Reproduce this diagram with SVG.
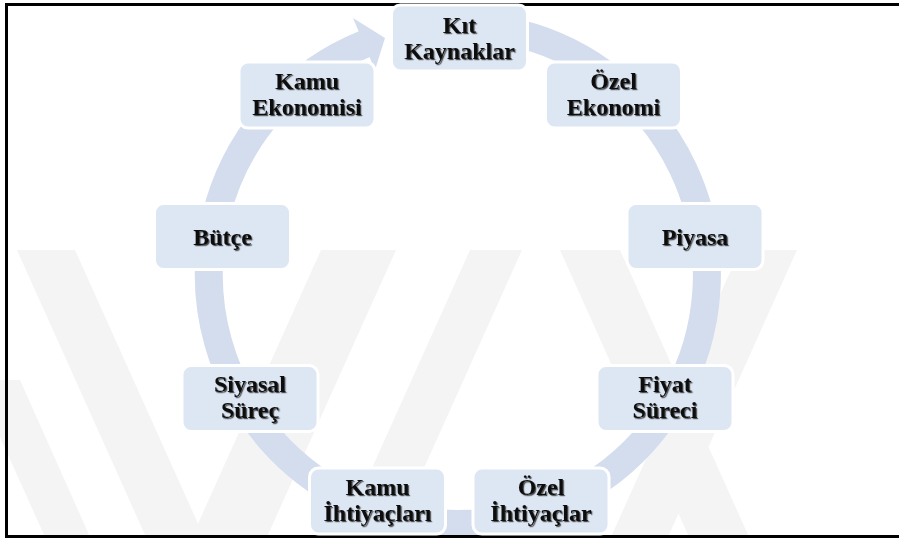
<svg xmlns="http://www.w3.org/2000/svg" width="899" height="540" viewBox="0 0 899 540">
<defs>
<filter id="sh" x="-10%" y="-10%" width="130%" height="130%">
<feDropShadow dx="1.2" dy="1.2" stdDeviation="0.7" flood-color="#333" flood-opacity="0.85"/>
</filter>
</defs>
<style>
.box{fill:#dde7f4;stroke:#ffffff;stroke-width:3}
.t{font-family:"Liberation Serif","Times New Roman",serif;font-weight:bold;font-size:24px;fill:#111;text-anchor:middle;filter:url(#sh)}
.wm{fill:#f4f4f4}
.ring{fill:none;stroke:#d3ddee;stroke-width:28}
</style>
<rect width="899" height="540" fill="#fff"/>
<g id="watermark">
<polygon class="wm" points="17,250 75,250 204,537 146,537"/>
<polygon class="wm" points="321,250 396,250 267,537 192,537"/>
<polygon class="wm" points="470,250 522,250 393,537 341,537"/>
<polygon class="wm" points="740,250 797,250 668,537 611,537"/>
<polygon class="wm" points="560,250 620,250 749,537 689,537"/>
<polygon class="wm" points="0,380 20,380 90,537 45,537 0,437"/>
</g>
<g id="connectors">
<path class="ring" d="M501.2,29.8 A249,249 0 1 1 364.7,44.1"/>
<polygon fill="#d3ddee" points="353,18 385,38 375,70"/>
</g>
<g id="border" fill="none" stroke="#000">
<line x1="5" y1="4.5" x2="899" y2="4.5" stroke-width="3"/>
<line x1="6.5" y1="3" x2="6.5" y2="538" stroke-width="3"/>
<line x1="5" y1="536.5" x2="899" y2="536.5" stroke-width="3"/>
</g>
<g id="n1"><rect class="box" x="391.5" y="5" width="136" height="66" rx="9"/><text class="t" x="459.5" y="33">Kıt</text><text class="t" x="459.5" y="59">Kaynaklar</text></g>
<g id="n2"><rect class="box" x="545.5" y="62" width="136" height="66" rx="9"/><text class="t" x="613.5" y="89">Özel</text><text class="t" x="613.5" y="115">Ekonomi</text></g>
<g id="n3"><rect class="box" x="627" y="203.5" width="136" height="66" rx="9"/><text class="t" x="695" y="245">Piyasa</text></g>
<g id="n4"><rect class="box" x="597" y="365.5" width="136" height="66" rx="9"/><text class="t" x="665" y="392">Fiyat</text><text class="t" x="665" y="418">Süreci</text></g>
<g id="n5"><rect class="box" x="473" y="468" width="136" height="66" rx="9"/><text class="t" x="541" y="495">Özel</text><text class="t" x="541" y="521">İhtiyaçlar</text></g>
<g id="n6"><rect class="box" x="309.5" y="468" width="136" height="66" rx="9"/><text class="t" x="377.5" y="495">Kamu</text><text class="t" x="377.5" y="521">İhtiyaçları</text></g>
<g id="n7"><rect class="box" x="182" y="365.5" width="136" height="66" rx="9"/><text class="t" x="250" y="392">Siyasal</text><text class="t" x="250" y="418">Süreç</text></g>
<g id="n8"><rect class="box" x="154.5" y="203.5" width="136" height="66" rx="9"/><text class="t" x="222.5" y="245">Bütçe</text></g>
<g id="n9"><rect class="box" x="239" y="62" width="136" height="66" rx="9"/><text class="t" x="307" y="89">Kamu</text><text class="t" x="307" y="115">Ekonomisi</text></g>
</svg>
